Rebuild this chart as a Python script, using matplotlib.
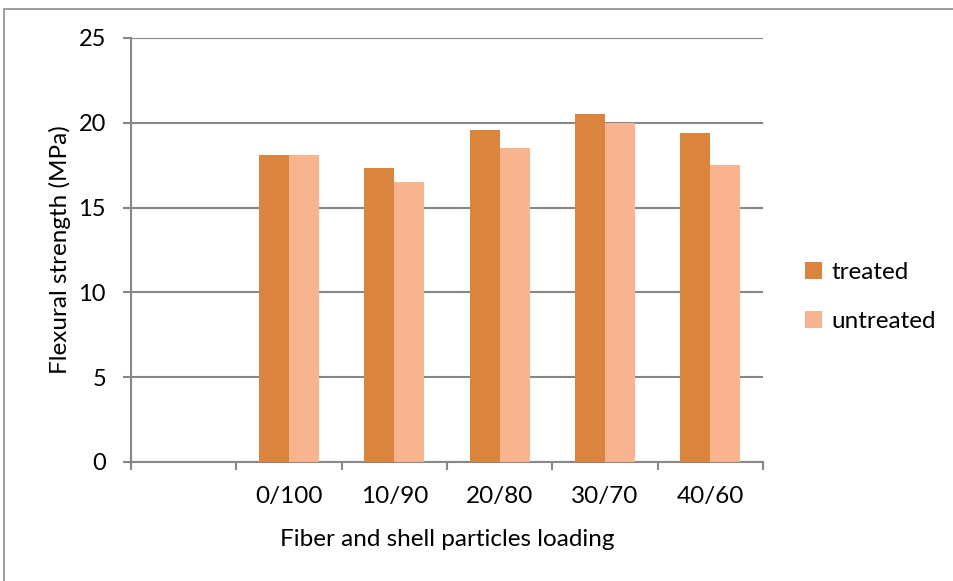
import numpy as np
import matplotlib
matplotlib.use('Agg')
import matplotlib.pyplot as plt
from matplotlib.patches import Rectangle

categories = ['', '0/100', '10/90', '20/80', '30/70', '40/60']
treated = [0, 18.1, 17.35, 19.55, 20.5, 19.4]
untreated = [0, 18.1, 16.5, 18.5, 20.0, 17.5]

GRID = '#878787'
FS = 17.5
plt.rcParams['font.family'] = ['Lato', 'DejaVu Sans']

fig = plt.figure(figsize=(9.54, 5.81), dpi=100)
W, H = 954, 581
ax = fig.add_axes([131 / W, 1 - 462 / H, (763 - 131) / W, (462 - 38) / H])

# outer chart frame (cut off at right/bottom like the reference)
fig.patches.append(Rectangle((4 / W, -0.1), 1.2, 1 - 9 / H + 0.1, transform=fig.transFigure,
                             fill=False, edgecolor='#8c8c8c', linewidth=1.2))

x = np.arange(len(categories))
bw = 1 / 3.5
ax.bar(x - bw / 2, treated, bw, color='#db843d', label='treated', zorder=3)
ax.bar(x + bw / 2, untreated, bw, color='#f8b48e', label='untreated', zorder=3)

ax.set_xlim(-0.5, len(categories) - 0.5)
ax.set_ylim(0, 25)
ax.set_yticks(range(0, 26, 5))
ax.set_xticks(x)
ax.set_xticklabels(categories)
ax.set_xticks(np.arange(-0.5, len(categories)), minor=True)
ax.tick_params(axis='x', which='major', length=0, pad=17, labelsize=FS)
ax.tick_params(axis='x', which='minor', length=6, width=1.5, color=GRID, direction='out')
ax.tick_params(axis='y', length=6, width=1.5, color=GRID, labelsize=FS - 0.5, pad=12)

ax.yaxis.grid(True, color=GRID, linewidth=1.5, zorder=0)
for s in ['top', 'right']:
    ax.spines[s].set_visible(False)
for s in ['left', 'bottom']:
    ax.spines[s].set_color(GRID)
    ax.spines[s].set_linewidth(1.5)

ax.set_xlabel('Fiber and shell particles loading', fontsize=FS, labelpad=16)
ax.set_ylabel('Flexural strength (MPa)', fontsize=FS)
ax.yaxis.set_label_coords(-0.095, 0.5)

ax.legend(loc='center left', bbox_to_anchor=(805 / W, 1 - 297 / H), bbox_transform=fig.transFigure,
          frameon=False, fontsize=FS, handlelength=0.7, handleheight=0.7, labelspacing=1.15,
          handletextpad=0.4, borderaxespad=0, borderpad=0)

fig.savefig('out.png', dpi=100)
